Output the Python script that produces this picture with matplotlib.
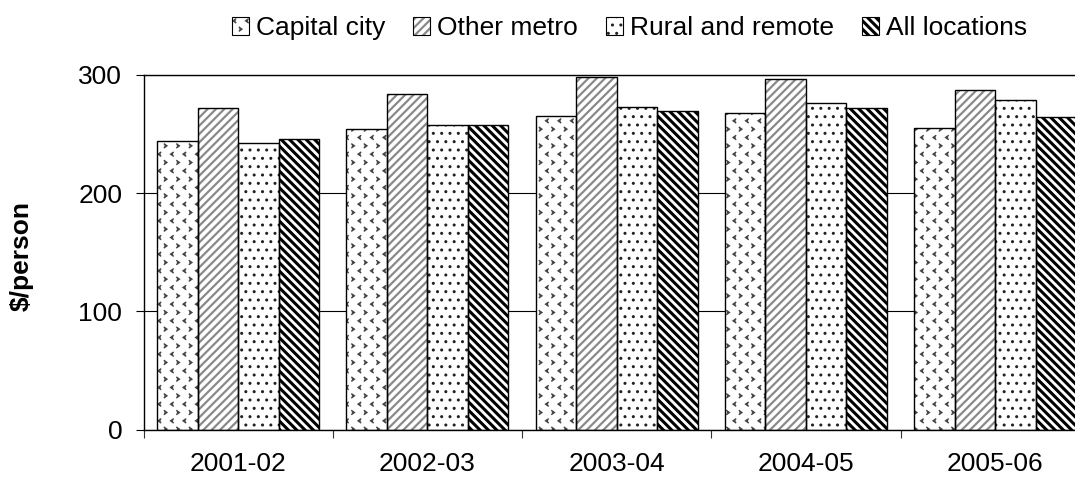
import matplotlib
matplotlib.use("Agg")
import matplotlib.pyplot as plt
import matplotlib.hatch as mhatch
from matplotlib.path import Path
from matplotlib.legend_handler import HandlerBase
from matplotlib.patches import Rectangle
import numpy as np

plt.rcParams['font.family'] = ['Liberation Sans', 'DejaVu Sans']

years = ["2001-02", "2002-03", "2003-04", "2004-05", "2005-06"]
series_names = ["Capital city", "Other metro", "Rural and remote", "All locations"]
capital_city = [244, 254, 265, 267.5, 255.5]
other_metro = [272, 283.5, 298, 297, 287]
rural_remote = [242.5, 257.5, 272.5, 276, 278.5]
all_locations = [246, 257.5, 269.5, 272, 264.5]
yticks = [0, 100, 200, 300]


# custom chevron hatch ('<' '>' marks) bound to the 'O' character
class Chevrons(mhatch.HatchPatternBase):
    def __init__(self, hatch, density):
        k = hatch.count('O')
        self.n_rows = 12 * k
        self.n_cols = 8 * k
        self.num_vertices = self.n_rows * self.n_cols * 3 if k else 0

    def set_vertices_and_codes(self, vertices, codes):
        dy = 1.0 / self.n_rows
        dx = 1.0 / self.n_cols
        s = 0.22 * dy
        i = 0
        for r in range(self.n_rows):
            sign = 1 if r % 2 == 0 else -1
            shift = 0.5 * dx if r % 2 else 0.0
            for c in range(self.n_cols):
                cx = c * dx + shift + 0.25 * dx
                cy = r * dy + 0.5 * dy
                pts = [(cx - sign * s * 0.7, cy + s), (cx + sign * s * 0.7, cy),
                       (cx - sign * s * 0.7, cy - s)]
                vertices[i:i + 3] = pts
                codes[i:i + 3] = [Path.MOVETO, Path.LINETO, Path.LINETO]
                i += 3


mhatch._hatch_types = [t for t in mhatch._hatch_types
                       if t is not mhatch.LargeCircles] + [Chevrons]

series = [capital_city, other_metro, rural_remote, all_locations]
hatches = ['O', '////', '..', '\\\\\\\\']
hatch_colors = ['#444444', '#8a8a8a', '#222222', '#000000']
hatch_lws = [1.0, 1.6, 1.0, 2.2]


class HatchBoxHandler(HandlerBase):
    def __init__(self, hatch, hc, hlw):
        super().__init__()
        self.h, self.hc, self.hlw = hatch, hc, hlw

    def create_artists(self, legend, orig_handle, xdescent, ydescent, width,
                       height, fontsize, trans):
        r1 = Rectangle((-xdescent, -ydescent), width, height, facecolor='white',
                       edgecolor=self.hc, hatch=self.h, linewidth=0, transform=trans)
        if hasattr(r1, 'set_hatch_linewidth'):
            r1.set_hatch_linewidth(self.hlw)
        r2 = Rectangle((-xdescent, -ydescent), width, height, facecolor='none',
                       edgecolor='black', linewidth=0.8, transform=trans)
        return [r1, r2]


fig = plt.figure(figsize=(10.75, 4.8), dpi=100)
ax = fig.add_axes([143.5 / 1075, 50.5 / 480, 946.25 / 1075, 354.5 / 480])

x = np.arange(len(years))
w = 0.214
handles = []
hmap = {}
for i, (vals, h, hc, hlw) in enumerate(zip(series, hatches, hatch_colors, hatch_lws)):
    pos = x + (i - 1.5) * w
    b1 = ax.bar(pos, vals, width=w, facecolor='white', edgecolor=hc, hatch=h,
                linewidth=0, zorder=2)
    for p in b1:
        if hasattr(p, 'set_hatch_linewidth'):
            p.set_hatch_linewidth(hlw)
    ax.bar(pos, vals, width=w, facecolor='none', edgecolor='black',
           linewidth=1.0, zorder=3)
    handles.append(b1[0])
    hmap[b1[0]] = HatchBoxHandler(h, hc, hlw)

ax.set_xlim(-0.5, 4.5)
ax.set_ylim(0, 300)
ax.set_yticks(yticks)
ax.set_xticks(x)
ax.set_xticklabels(years, fontsize=19)
ax.set_xticks(np.arange(-0.5, 5.0, 1.0), minor=True)
ax.tick_params(axis='x', which='major', length=0, pad=16)
ax.tick_params(axis='x', which='minor', length=5.8, width=0.8, direction='out', color='#333333')
ax.tick_params(axis='y', labelsize=19, length=5.8, width=0.8, direction='out', pad=9.5)
ax.yaxis.grid(True, color='black', linewidth=0.8)
ax.set_axisbelow(True)
for s in ax.spines.values():
    s.set_color('black')
    s.set_linewidth(1.0)

fig.text(21.7 / 1075, 1 - 256 / 480, "$/person", rotation=90, fontsize=19,
         fontweight='bold', ha='center', va='center')

fig.legend(handles, series_names, handler_map=hmap,
           loc='center', bbox_to_anchor=(629.5 / 1075, 1 - 28 / 480), ncol=4,
           frameon=False, fontsize=19, handlelength=0.65, handleheight=0.65,
           handletextpad=0.27, columnspacing=1.05, borderpad=0, borderaxespad=0)

fig.savefig("out.png", dpi=100)
